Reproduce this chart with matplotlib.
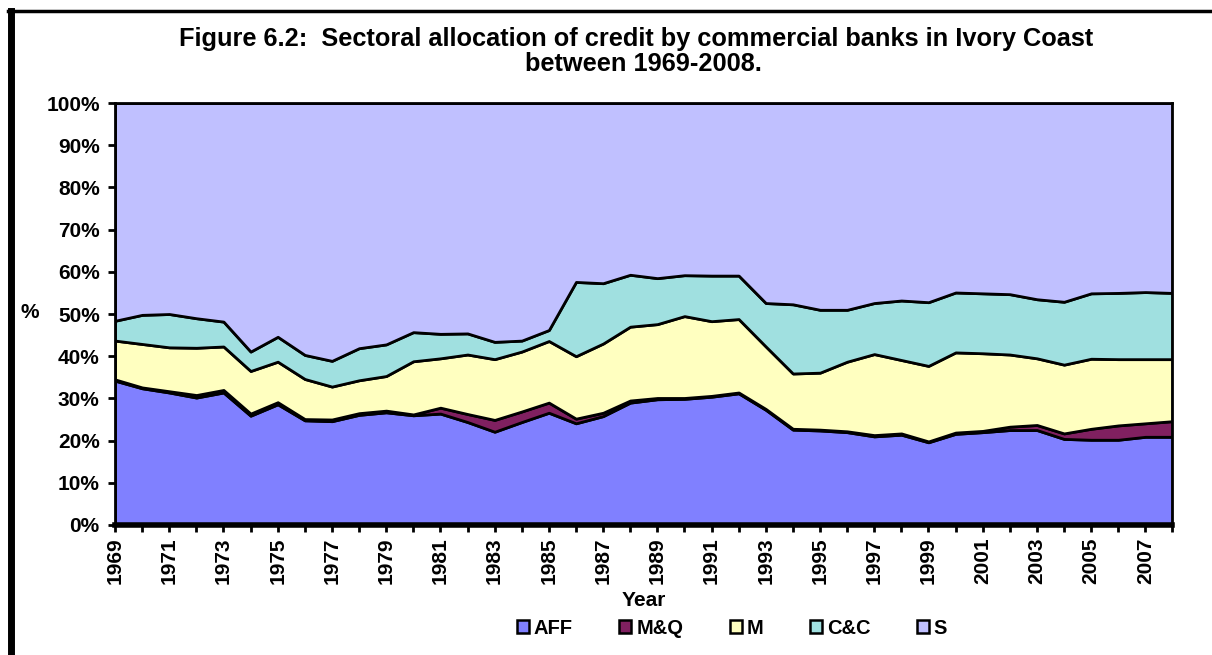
import matplotlib.pyplot as plt
from matplotlib.patches import Rectangle
from matplotlib.lines import Line2D
import numpy as np

plt.rcParams['font.family'] = ['Liberation Sans', 'DejaVu Sans']
plt.rcParams['font.weight'] = 'bold'

years = list(range(1969, 2009))

# share of credit by sector, % of total
aff = [34.2, 32.4, 31.4, 30.2, 31.4, 25.9, 28.6, 24.8, 24.6, 26.1,
       26.7, 26.0, 26.4, 24.4, 22.1, 24.4, 26.6, 24.1, 25.8, 29.0,
       29.8, 29.9, 30.4, 31.2, 27.3, 22.6, 22.4, 22.0, 21.0, 21.4,
       19.6, 21.6, 22.0, 22.5, 22.5, 20.4, 20.2, 20.2, 20.9, 20.9]
mq = [0.3, 0.2, 0.3, 0.6, 0.6, 0.5, 0.5, 0.3, 0.4, 0.4,
      0.4, 0.2, 1.4, 1.9, 2.8, 2.5, 2.4, 1.1, 0.8, 0.5,
      0.3, 0.2, 0.2, 0.2, 0.2, 0.2, 0.2, 0.2, 0.3, 0.3,
      0.2, 0.3, 0.3, 0.8, 1.2, 1.3, 2.6, 3.4, 3.2, 3.7]
m = [9.2, 10.3, 10.4, 11.2, 10.3, 10.1, 9.6, 9.5, 7.8, 7.8,
     8.2, 12.6, 11.7, 14.1, 14.4, 14.2, 14.6, 14.8, 16.4, 17.5,
     17.5, 19.4, 17.7, 17.4, 14.8, 13.1, 13.5, 16.5, 19.2, 17.4,
     17.9, 19.0, 18.4, 17.1, 15.8, 16.3, 16.6, 15.7, 15.2, 14.7]
cc = [4.7, 6.9, 7.9, 7.0, 5.9, 4.6, 5.9, 5.7, 6.1, 7.6,
      7.5, 6.9, 5.8, 5.0, 4.1, 2.6, 2.6, 17.6, 14.3, 12.3,
      10.9, 9.7, 10.8, 10.3, 10.3, 16.4, 14.9, 12.3, 12.1, 14.1,
      15.1, 14.2, 14.2, 14.3, 14.0, 14.9, 15.5, 15.7, 15.9, 15.7]
s = [51.6, 50.2, 50.0, 51.0, 51.8, 58.9, 55.4, 59.7, 61.1, 58.1,
     57.2, 54.3, 54.7, 54.6, 56.6, 56.3, 53.8, 42.4, 42.7, 40.7,
     41.5, 40.8, 40.9, 40.9, 47.4, 47.7, 49.0, 49.0, 47.4, 46.8,
     47.2, 44.9, 45.1, 45.3, 46.5, 47.1, 45.1, 45.0, 44.8, 45.0]

labels = ['AFF', 'M&Q', 'M', 'C&C', 'S']
colors = ['#8080FF', '#802060', '#FFFFC0', '#A0E0E0', '#C0C0FF']

series = np.array([aff, mq, m, cc, s], dtype=float)
series = series / series.sum(axis=0) * 100

fig = plt.figure(figsize=(12.12, 6.55), dpi=100)
ax = fig.add_axes([0.0949, 0.1985, 0.8725, 0.6442])

ax.stackplot(years, series, colors=colors, edgecolor='black', linewidth=2)

ax.set_xlim(1969, 2008)
ax.set_ylim(0, 100)
ax.set_yticks(range(0, 101, 10))
ax.set_yticklabels([f'{v}%' for v in range(0, 101, 10)])
ax.set_xticks(years)
ax.set_xticklabels([str(y) if (y - 1969) % 2 == 0 else '' for y in years], rotation=90)
ax.tick_params(axis='both', labelsize=15, width=2, length=5, colors='black')
ax.tick_params(axis='y', pad=6)
ax.tick_params(axis='x', pad=4)
for sp in ['left', 'right', 'top']:
    ax.spines[sp].set_linewidth(2)
ax.spines['bottom'].set_linewidth(4)

ax.set_xlabel('Year', fontsize=15, fontweight='bold', va='center')
ax.xaxis.set_label_coords(0.5, -0.178)
fig.text(30 / 1212, 1 - 313 / 655, '%', fontsize=15, fontweight='bold',
         ha='center', va='center')

fig.text(636 / 1212, 1 - 39 / 655, 'Figure 6.2:  Sectoral allocation of credit by commercial banks in Ivory Coast',
         fontsize=18.3, fontweight='bold', ha='center', va='center')
fig.text(643 / 1212, 1 - 64 / 655, 'between 1969-2008.',
         fontsize=18.3, fontweight='bold', ha='center', va='center')

handles = [Rectangle((0, 0), 1, 1, facecolor=c, edgecolor='black', linewidth=1.8) for c in colors]
leg = fig.legend(handles, labels, loc='center', bbox_to_anchor=(732 / 1212, 1 - 628 / 655), ncol=5,
                 frameon=False, fontsize=14.5, handlelength=0.6, handleheight=0.6,
                 handletextpad=0.25, columnspacing=2.3, borderpad=0)

# outer frame
fig.add_artist(Line2D([11 / 1212, 11 / 1212], [0, 1 - 11 / 655], color='black', linewidth=5,
                      transform=fig.transFigure))
fig.add_artist(Line2D([8 / 1212, 1], [1 - 11 / 655, 1 - 11 / 655], color='black', linewidth=2.5,
                      transform=fig.transFigure))

fig.savefig('out.png', dpi=100)
